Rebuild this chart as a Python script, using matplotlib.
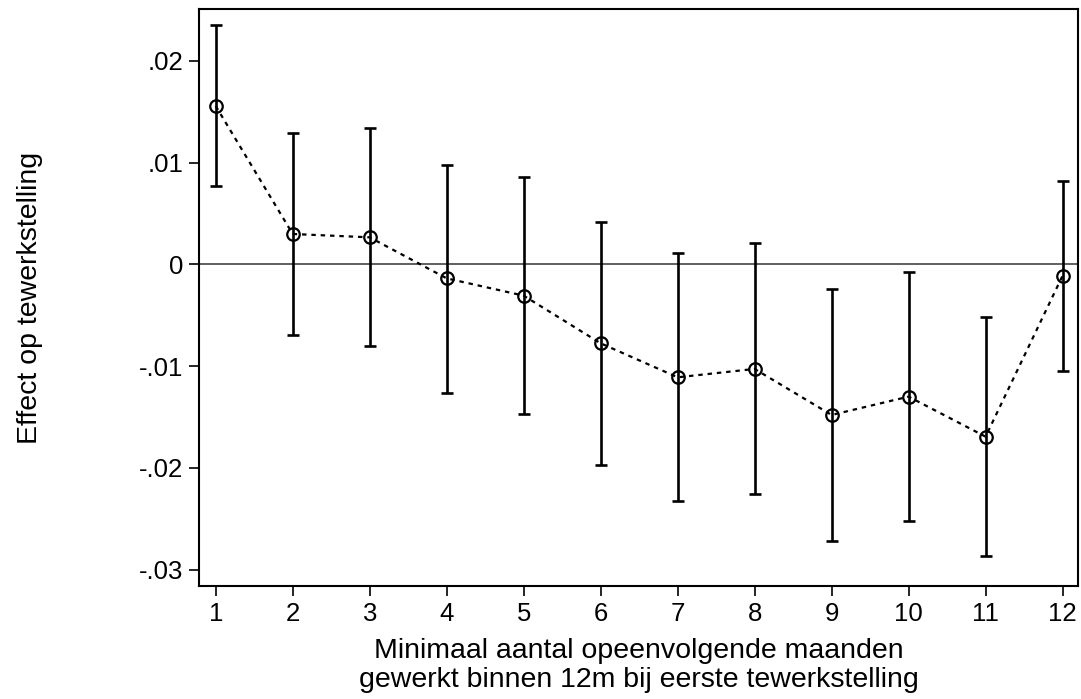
import numpy as np
import matplotlib.pyplot as plt

plt.rcParams["font.family"] = ["Liberation Sans", "DejaVu Sans"]

# Minimum consecutive months worked and estimated effect with 95% CI
months = [1, 2, 3, 4, 5, 6, 7, 8, 9, 10, 11, 12]
effect = [0.01555, 0.00298, 0.00265, -0.00138, -0.00308, -0.00776,
          -0.0111, -0.01028, -0.0148, -0.0130, -0.01693, -0.00112]
ci_low = [0.00769, -0.00694, -0.00803, -0.01264, -0.01473, -0.01972,
          -0.02325, -0.02256, -0.02715, -0.02522, -0.02862, -0.01045]
ci_high = [0.02351, 0.01293, 0.01336, 0.00978, 0.00855, 0.00419,
           0.00108, 0.00206, -0.00246, -0.00076, -0.00521, 0.00818]

yticks = [0.02, 0.01, 0.0, -0.01, -0.02, -0.03]
ytick_labels = [".02", ".01", "0", "-.01", "-.02", "-.03"]

if __name__ == "__main__":
    fig = plt.figure(figsize=(10.81, 6.99), dpi=100)
    ax = fig.add_axes([0.1841, 0.1617, 0.8131, 0.8254])

    x = np.array(months)
    y = np.array(effect)
    lo = y - np.array(ci_low)
    hi = np.array(ci_high) - y

    ax.axhline(0, color="#444444", lw=1.2, zorder=1)
    ax.errorbar(x, y, yerr=[lo, hi], fmt="none", ecolor="black",
                elinewidth=1.9, capsize=4.5, capthick=1.9, zorder=2)
    ax.plot(x, y, color="black", lw=1.6, ls=(0, (2, 2.2)), zorder=3)
    ax.plot(x, y, ls="none", marker="o", ms=9, mfc="none", mec="black",
            mew=1.6, zorder=4)

    ax.set_xlim(0.783, 12.2)
    ax.set_ylim(-0.0316, 0.02508)
    ax.set_xticks(months)
    ax.set_yticks(yticks)
    ax.set_yticklabels(ytick_labels)
    ax.tick_params(axis="both", direction="out", length=7, width=1.2,
                   labelsize=18.5, pad=4.5, colors="black")

    for spine in ax.spines.values():
        spine.set_linewidth(1.5)

    ax.set_xlabel("Minimaal aantal opeenvolgende maanden\n"
                  "gewerkt binnen 12m bij eerste tewerkstelling",
                  fontsize=20.5, labelpad=9, linespacing=1.12)
    ax.set_ylabel("Effect op tewerkstelling", fontsize=20.5)
    ax.yaxis.set_label_coords(-0.178, 0.5)

    plt.savefig("out.png", dpi=100)
    plt.close()
